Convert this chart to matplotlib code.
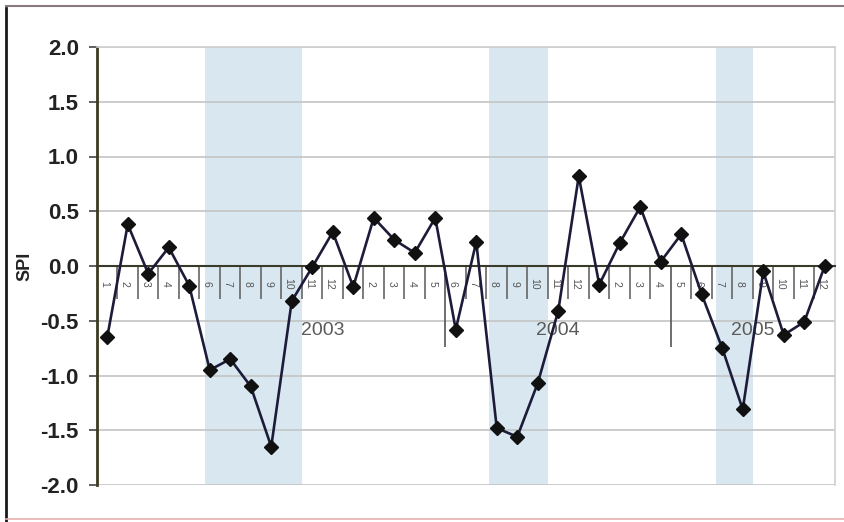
import matplotlib.pyplot as plt
from matplotlib.lines import Line2D
from matplotlib.ticker import FixedLocator, NullFormatter

plt.rcParams['font.family'] = ['Liberation Sans', 'DejaVu Sans']

# monthly SPI values, three years of months
spi = [-0.65, 0.38, -0.07, 0.17, -0.18, -0.95, -0.85, -1.10, -1.65, -0.32, -0.01, 0.31,
       -0.19, 0.44, 0.24, 0.12, 0.44, -0.58, 0.22, -1.48, -1.56, -1.07, -0.41, 0.82,
       -0.17, 0.21, 0.54, 0.04, 0.29, -0.26, -0.75, -1.31, -0.05, -0.63, -0.51, 0.00]
months = [str(m) for m in range(1, 13)] * 3
years = ['2003', '2004', '2005']
year_groups = [(5, 16), (17, 27), (28, 35)]
group_breaks = [16.5, 27.5]
dry_spells = [(4.75, 9.5), (18.6, 21.5), (29.7, 31.5)]

fig = plt.figure(figsize=(8.45, 5.22), dpi=100)
ax = fig.add_axes([97 / 845, 1 - 485 / 522, 738 / 845, 438 / 522])

x = list(range(len(spi)))

for a, b in dry_spells:
    ax.axvspan(a, b, color='#d3e5ee', alpha=0.85, lw=0, zorder=0)

for yv in [-2.0, -1.5, -1.0, -0.5, 0.5, 1.0, 1.5, 2.0]:
    ax.axhline(yv, color='#c4c4c4', lw=1.2, zorder=1)

ax.plot(x, spi, color='#1c1c3a', lw=1.9, marker='D', markersize=7,
        markerfacecolor='#111111', markeredgecolor='#111111', zorder=4)

ax.set_xlim(-0.5, len(spi) - 0.5)
ax.set_ylim(-2.0, 2.0)
ax.set_yticks([-2.0, -1.5, -1.0, -0.5, 0.0, 0.5, 1.0, 1.5, 2.0])
ax.set_yticklabels(['%.1f' % v for v in ax.get_yticks()], fontsize=16,
                   fontweight='bold', color='#222222')
ax.tick_params(axis='y', direction='out', length=6, width=1.2, color='#444444', pad=7)
ax.set_ylabel('SPI', fontsize=13, fontweight='bold', color='#222222', labelpad=5)

# category axis sitting on zero, short ticks between months, long ones between years
ax.spines['bottom'].set_position(('data', 0))
ax.spines['bottom'].set_color('#3a3a2a')
ax.spines['bottom'].set_linewidth(1.5)
ax.spines['bottom'].set_zorder(3)
ax.xaxis.set_major_locator(FixedLocator(group_breaks))
ax.xaxis.set_minor_locator(FixedLocator([i + 0.5 for i in range(len(spi) - 1)]))
ax.xaxis.set_major_formatter(NullFormatter())
ax.tick_params(axis='x', which='major', direction='out', length=58, width=1.2, color='#555555')
ax.tick_params(axis='x', which='minor', direction='out', length=24, width=1.2, color='#666666')

for i, m in enumerate(months):
    ax.text(i - 0.15, -0.16, m, rotation=270, ha='center', va='center',
            fontsize=7.5, color='#555555', zorder=2)

for label, (a, b) in zip(years, year_groups):
    ax.text((a + b) / 2, -0.585, label, ha='center', va='center',
            fontsize=14, color='#5a5a5a')

ax.spines['left'].set_color('#3b3b22')
ax.spines['left'].set_linewidth(2)
for side in ['top', 'right']:
    ax.spines[side].set_color('#cfcfcf')
    ax.spines[side].set_linewidth(1.2)

# outer frame of the chart
fig.add_artist(Line2D([6 / 845, 6 / 845], [0, 1 - 8 / 522], transform=fig.transFigure,
                      color='#1a1a1a', lw=2))
fig.add_artist(Line2D([6 / 845, 1], [1 - 6 / 522, 1 - 6 / 522], transform=fig.transFigure,
                      color='#8a7a80', lw=1.5))
fig.add_artist(Line2D([6 / 845, 1], [3 / 522, 3 / 522], transform=fig.transFigure,
                      color='#e8b0b0', lw=1.2))

fig.savefig('out.png', dpi=100)
